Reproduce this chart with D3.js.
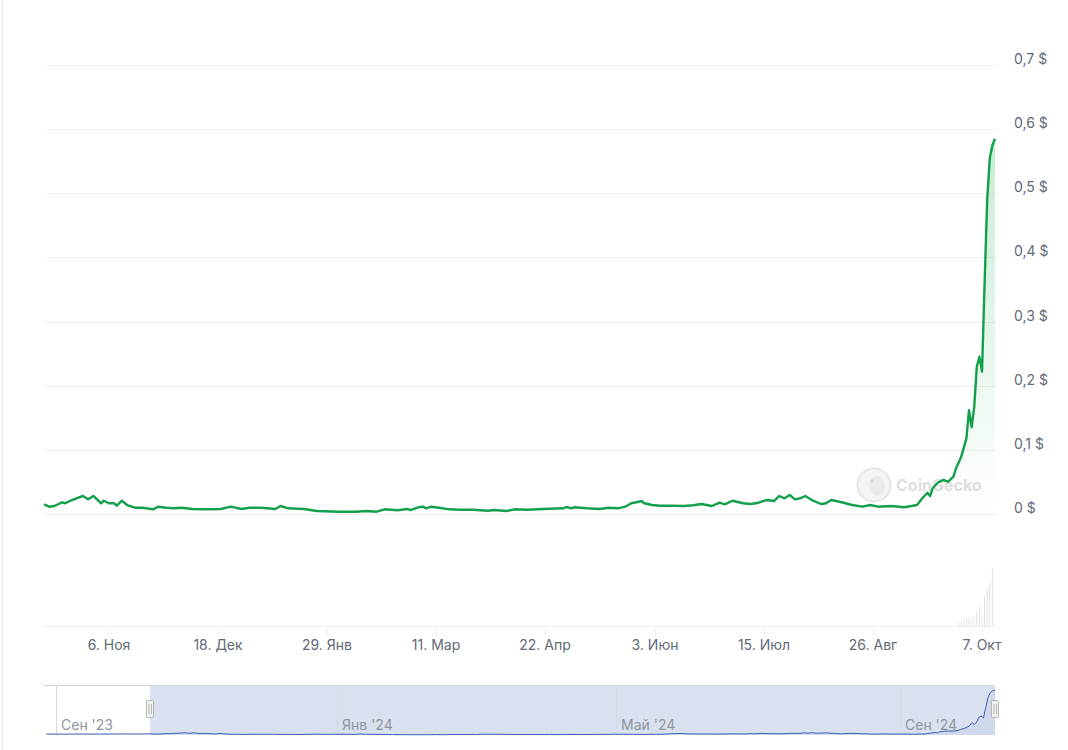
<!DOCTYPE html>
<html>
<head>
<meta charset="utf-8">
<script src="https://cdn.jsdelivr.net/npm/d3@7"></script>
<style>
  body { margin: 0; background: #fff; }
  svg { display: block; font-family: Inter, "Noto Sans", sans-serif; }
</style>
</head>
<body>
<div id="chart"></div>
<script>
// price, USD (before Oct 12 2023 only shown in the navigator)
var priceDates = [
  "2023-08-28","2023-09-02","2023-09-08","2023-09-14","2023-09-20","2023-09-26","2023-10-02","2023-10-07",
  "2023-10-12","2023-10-14","2023-10-16","2023-10-19","2023-10-20","2023-10-22","2023-10-24","2023-10-27",
  "2023-10-29","2023-10-31","2023-11-01","2023-11-03","2023-11-04","2023-11-06","2023-11-08","2023-11-09",
  "2023-11-11","2023-11-13","2023-11-16","2023-11-19","2023-11-23","2023-11-25","2023-11-28","2023-12-01",
  "2023-12-04","2023-12-08","2023-12-14","2023-12-19","2023-12-23","2023-12-27","2023-12-30","2024-01-03",
  "2024-01-06","2024-01-09","2024-01-11","2024-01-14","2024-01-20","2024-01-25","2024-02-02","2024-02-09",
  "2024-02-13","2024-02-17","2024-02-20","2024-02-25","2024-02-29","2024-03-01","2024-03-04","2024-03-06",
  "2024-03-07","2024-03-09","2024-03-12","2024-03-16","2024-03-20","2024-03-25","2024-03-31","2024-04-02",
  "2024-04-07","2024-04-10","2024-04-15","2024-04-21","2024-04-29","2024-04-30","2024-05-02","2024-05-03",
  "2024-05-08","2024-05-13","2024-05-16","2024-05-20","2024-05-23","2024-05-25","2024-05-27","2024-05-29",
  "2024-05-30","2024-06-02","2024-06-05","2024-06-09","2024-06-14","2024-06-18","2024-06-21","2024-06-25",
  "2024-06-28","2024-06-30","2024-07-03","2024-07-07","2024-07-10","2024-07-13","2024-07-16","2024-07-19",
  "2024-07-21","2024-07-23","2024-07-25","2024-07-27","2024-07-29","2024-07-31","2024-08-03","2024-08-06",
  "2024-08-08","2024-08-10","2024-08-14","2024-08-18","2024-08-22","2024-08-25","2024-08-28","2024-09-02",
  "2024-09-07","2024-09-12","2024-09-14","2024-09-16","2024-09-17","2024-09-18","2024-09-20","2024-09-22",
  "2024-09-24","2024-09-26","2024-09-27","2024-09-29","2024-10-01","2024-10-02","2024-10-03","2024-10-04",
  "2024-10-05","2024-10-06","2024-10-07","2024-10-08","2024-10-09","2024-10-10","2024-10-11","2024-10-12"
];
var priceValues = [
  0.012,0.011,0.012,0.013,0.012,0.013,0.014,0.013,
  0.0151,0.0114,0.0125,0.0183,0.0167,0.0203,0.0234,0.0281,
  0.0229,0.0281,0.0245,0.0167,0.0207,0.0167,0.0167,0.0129,
  0.0207,0.0140,0.0098,0.0098,0.0073,0.0114,0.0098,0.0089,
  0.0098,0.0078,0.0073,0.0078,0.0114,0.0078,0.0098,0.0098,
  0.0089,0.0078,0.0125,0.0089,0.0078,0.0047,0.0036,0.0036,
  0.0047,0.0036,0.0073,0.0058,0.0078,0.0062,0.0105,0.0114,
  0.0089,0.0114,0.0098,0.0073,0.0067,0.0067,0.0051,0.0062,
  0.0047,0.0073,0.0067,0.0078,0.0089,0.0109,0.0089,0.0105,
  0.0089,0.0078,0.0098,0.0089,0.0120,0.0167,0.0183,0.0203,
  0.0167,0.0140,0.0129,0.0130,0.0125,0.0136,0.0156,0.0125,
  0.0176,0.0151,0.0207,0.0167,0.0156,0.0176,0.0218,0.0203,
  0.0281,0.0245,0.0296,0.0229,0.0245,0.0281,0.0207,0.0156,
  0.0167,0.0218,0.0183,0.0140,0.0114,0.0140,0.0114,0.0125,
  0.0105,0.0140,0.0245,0.0332,0.0280,0.0401,0.0488,0.0530,
  0.0504,0.0582,0.0713,0.0894,0.118,0.162,0.135,0.167,
  0.230,0.245,0.222,0.36,0.49,0.555,0.575,0.585
];

// trading volume, millions USD (earlier days are too small to show)
var volDates = ["2024-09-28","2024-09-29","2024-09-30","2024-10-01","2024-10-02","2024-10-03","2024-10-04",
  "2024-10-05","2024-10-06","2024-10-07","2024-10-08","2024-10-09","2024-10-10","2024-10-11"];
var volValues = [1, 1.5, 2.5, 3, 3, 2.5, 3.5, 5, 7, 3, 10, 13, 15, 20];

var yTicks = [0, 0.1, 0.2, 0.3, 0.4, 0.5, 0.6, 0.7];
var xTickDates = ["2023-11-06","2023-12-18","2024-01-29","2024-03-11","2024-04-22","2024-06-03","2024-07-15","2024-08-26","2024-10-07"];
var mainStart = "2023-10-12", mainEnd = "2024-10-12";
var navStart = "2023-08-27";

var ru = d3.timeFormatLocale({
  dateTime: "%A, %e %B %Y г. %X", date: "%d.%m.%Y", time: "%H:%M:%S", periods: ["AM", "PM"],
  days: ["воскресенье","понедельник","вторник","среда","четверг","пятница","суббота"],
  shortDays: ["вс","пн","вт","ср","чт","пт","сб"],
  months: ["января","февраля","марта","апреля","мая","июня","июля","августа","сентября","октября","ноября","декабря"],
  shortMonths: ["Янв","Фев","Мар","Апр","Май","Июн","Июл","Авг","Сен","Окт","Ноя","Дек"]
});
var parse = d3.timeParse("%Y-%m-%d");

var width = 1068, height = 750;
var left = 44, right = 995;

var data = priceDates.map(function(d, i){ return {date: parse(d), value: priceValues[i]}; });
var mainData = data.filter(function(d){ return d.date >= parse(mainStart); });
var vol = volDates.map(function(d, i){ return {date: parse(d), value: volValues[i]}; });

var svg = d3.select("#chart").append("svg")
  .attr("width", width).attr("height", height);

// faint page border on the left
svg.append("line").attr("x1", 2.5).attr("x2", 2.5).attr("y1", 0).attr("y2", height)
  .attr("stroke", "#ececec");

var x = d3.scaleTime().domain([parse(mainStart), parse(mainEnd)]).range([left, right]);
var y = d3.scaleLinear().domain([0, 0.7]).range([514, 65]);
var yVol = d3.scaleLinear().domain([0, 20.5]).range([626, 567]);

// grid + y labels
svg.append("g").selectAll("line").data(yTicks).enter().append("line")
  .attr("x1", left).attr("x2", 997)
  .attr("y1", function(d){ return Math.round(y(d)) + 0.5; })
  .attr("y2", function(d){ return Math.round(y(d)) + 0.5; })
  .attr("stroke", "#efefef");

svg.append("g").selectAll("text").data(yTicks).enter().append("text")
  .attr("x", 1014)
  .attr("y", function(d){ return y(d) - 1; })
  .attr("fill", "#626b77")
  .style("font-size", "14px")
  .text(function(d){ return (d === 0 ? "0" : d3.format(".1f")(d).replace(".", ",")) + " $"; });

// watermark
var wm = svg.append("g").attr("opacity", 0.9);
wm.append("circle").attr("cx", 874).attr("cy", 485).attr("r", 16.5)
  .attr("fill", "#f4f4f4").attr("stroke", "#e4e4e4").attr("stroke-width", 2);
wm.append("ellipse").attr("cx", 877).attr("cy", 486).attr("rx", 8).attr("ry", 10)
  .attr("fill", "#e9e9e9");
wm.append("circle").attr("cx", 872).attr("cy", 481).attr("r", 1.8).attr("fill", "#d6d6d6");
wm.append("text").attr("x", 896).attr("y", 491)
  .attr("fill", "#dcdcdc").style("font-size", "16px").style("font-weight", "700")
  .text("CoinGecko");

// area under price
var defs = svg.append("defs");
var grad = defs.append("linearGradient").attr("id", "areaGrad")
  .attr("gradientUnits", "userSpaceOnUse")
  .attr("x1", 0).attr("x2", 0).attr("y1", y(0.585)).attr("y2", y(0));
grad.append("stop").attr("offset", "0%").attr("stop-color", "#00a83e").attr("stop-opacity", 0.22);
grad.append("stop").attr("offset", "100%").attr("stop-color", "#00a83e").attr("stop-opacity", 0.0);

svg.append("path").datum(mainData)
  .attr("fill", "url(#areaGrad)")
  .attr("d", d3.area().x(function(d){ return x(d.date); }).y0(y(0)).y1(function(d){ return y(d.value); }));

svg.append("path").datum(mainData)
  .attr("fill", "none")
  .attr("stroke", "#13a04a")
  .attr("stroke-width", 2.4)
  .attr("stroke-linejoin", "round")
  .attr("d", d3.line().x(function(d){ return x(d.date); }).y(function(d){ return y(d.value); }));

// volume bars
svg.append("g").selectAll("rect").data(vol).enter().append("rect")
  .attr("x", function(d){ return x(d.date) - 0.5; })
  .attr("width", 1)
  .attr("y", function(d){ return yVol(d.value); })
  .attr("height", function(d){ return 626 - yVol(d.value); })
  .attr("fill", "#e2e2e2");

// x axis
svg.append("line").attr("x1", left).attr("x2", 997).attr("y1", 626.5).attr("y2", 626.5)
  .attr("stroke", "#ececec");

var fmtMain = ru.format("%-d. %b");
var xt = svg.append("g").selectAll("g").data(xTickDates.map(parse)).enter().append("g")
  .attr("transform", function(d){ return "translate(" + Math.round(x(d)) + ",0)"; });
xt.append("line").attr("x1", 0.5).attr("x2", 0.5).attr("y1", 627).attr("y2", 635).attr("stroke", "#efefef");
xt.append("text").attr("y", 650).attr("text-anchor", "middle")
  .attr("fill", "#626b77").style("font-size", "14px")
  .text(function(d){ return fmtMain(d); });

// navigator
var navTop = 685, navBottom = 735;
var xNav = d3.scaleTime().domain([parse(navStart), parse(mainEnd)]).range([left, right]);
var yNav = d3.scaleLinear().domain([0, d3.max(priceValues)]).range([navBottom, 690]);

var fmtNav = ru.format("%b '%y");
var navTicks = xNav.ticks(d3.timeMonth.every(4));

svg.append("rect").attr("x", xNav(parse(mainStart))).attr("y", navTop)
  .attr("width", right - xNav(parse(mainStart))).attr("height", navBottom - navTop)
  .attr("fill", "rgba(102,133,194,0.25)");

var nt = svg.append("g").selectAll("g").data(navTicks).enter().append("g")
  .attr("transform", function(d){ return "translate(" + Math.round(xNav(d)) + ",0)"; });
nt.append("line").attr("x1", 0.5).attr("x2", 0.5).attr("y1", navTop).attr("y2", navBottom)
  .attr("stroke", "#d6d9e0");
nt.append("text").attr("x", 5).attr("y", 730)
  .attr("fill", "#8f959e").style("font-size", "14px")
  .text(function(d){ return fmtNav(d); });

svg.append("path").datum(data)
  .attr("fill", "rgba(51,92,173,0.05)")
  .attr("d", d3.area().x(function(d){ return xNav(d.date); }).y0(navBottom).y1(function(d){ return yNav(d.value); }));
svg.append("path").datum(data)
  .attr("fill", "none").attr("stroke", "#3d5fae").attr("stroke-width", 1)
  .attr("d", d3.line().x(function(d){ return xNav(d.date); }).y(function(d){ return yNav(d.value); }));

svg.append("line").attr("x1", left).attr("x2", right).attr("y1", navTop + 0.5).attr("y2", navTop + 0.5)
  .attr("stroke", "#d3d3d3");

// handles
[xNav(parse(mainStart)), right].forEach(function(hx){
  var h = svg.append("g").attr("transform", "translate(" + Math.round(hx) + ",0)");
  h.append("rect").attr("x", -3.5).attr("y", 700.5).attr("width", 7).attr("height", 17).attr("rx", 1)
    .attr("fill", "#f2f2f2").attr("stroke", "#b5b5b5");
  h.append("line").attr("x1", -1).attr("x2", -1).attr("y1", 704).attr("y2", 714).attr("stroke", "#b5b5b5");
  h.append("line").attr("x1", 1.5).attr("x2", 1.5).attr("y1", 704).attr("y2", 714).attr("stroke", "#b5b5b5");
});
</script>
</body>
</html>
